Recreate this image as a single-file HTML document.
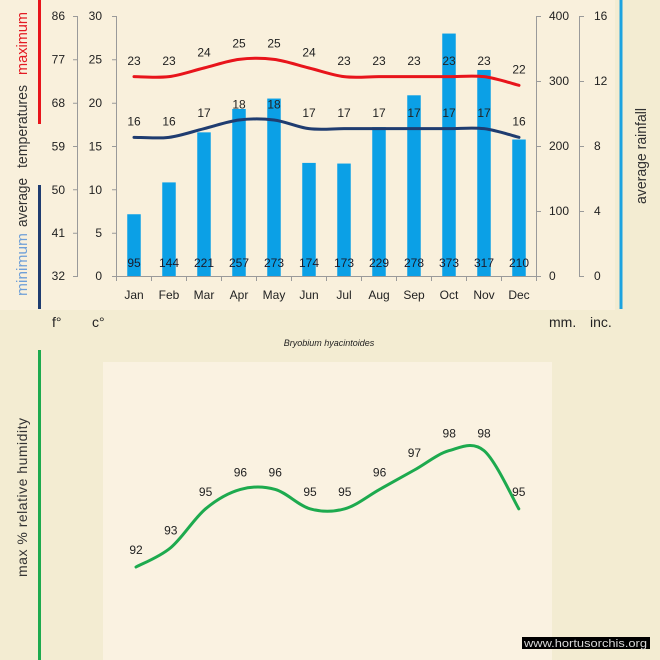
<!DOCTYPE html>
<html><head><meta charset="utf-8"><style>
html,body{margin:0;padding:0;background:#F3ECD2;}
svg{display:block;}
text{font-family:"Liberation Sans",sans-serif;}
</style></head><body>
<svg width="660" height="660" viewBox="0 0 660 660" xmlns="http://www.w3.org/2000/svg">
<rect x="0" y="0" width="660" height="660" fill="#F3ECD2"/>
<rect x="0" y="0" width="615" height="310" fill="#F9F0DC"/>
<rect x="103" y="362" width="449" height="298" fill="#FAF2E1"/>

<!-- decorative vertical lines -->
<line x1="39.5" y1="0" x2="39.5" y2="124" stroke="#E8141B" stroke-width="3"/>
<line x1="39.5" y1="185" x2="39.5" y2="309" stroke="#1F3C70" stroke-width="3"/>
<line x1="621" y1="0" x2="621" y2="309" stroke="#1CA3E0" stroke-width="3"/>
<line x1="39.5" y1="350" x2="39.5" y2="660" stroke="#1DAA4E" stroke-width="3"/>

<!-- left vertical title -->
<text transform="translate(27,296) rotate(-90)" font-size="15" fill="#6E9FD8" textLength="63" lengthAdjust="spacingAndGlyphs">minimum</text>
<text transform="translate(27,227) rotate(-90)" font-size="15" fill="#333" textLength="49" lengthAdjust="spacingAndGlyphs">average</text>
<text transform="translate(27,168) rotate(-90)" font-size="15" fill="#333" textLength="83" lengthAdjust="spacingAndGlyphs">temperatures</text>
<text transform="translate(27,75) rotate(-90)" font-size="15" fill="#E31B23" textLength="63" lengthAdjust="spacingAndGlyphs">maximum</text>

<!-- right vertical title -->
<text transform="translate(646,204) rotate(-90)" font-size="15" fill="#333" textLength="96" lengthAdjust="spacingAndGlyphs">average rainfall</text>

<!-- axes -->
<g stroke="#9A9A9A" stroke-width="1" fill="none">
<line x1="77.5" y1="16" x2="77.5" y2="276"/>
<line x1="116.5" y1="16" x2="116.5" y2="276"/>
<line x1="536.5" y1="16" x2="536.5" y2="276"/>
<line x1="579.5" y1="16" x2="579.5" y2="276"/>
<line x1="116" y1="276.5" x2="537" y2="276.5"/>
<path d="M73 16.5H78M73 59.8H78M73 103.2H78M73 146.5H78M73 189.8H78M73 233.2H78M73 276.5H78"/>
<path d="M112 16.5H117M112 59.8H117M112 103.2H117M112 146.5H117M112 189.8H117M112 233.2H117M112 276.5H117"/>
<path d="M536 16.5H541M536 81.5H541M536 146.5H541M536 211.5H541M536 276.5H541"/>
<path d="M579 16.5H584M579 81.5H584M579 146.5H584M579 211.5H584M579 276.5H584"/>
<path d="M116.5 276V281M151.5 276V281M186.5 276V281M221.5 276V281M256.5 276V281M291.5 276V281M326.5 276V281M361.5 276V281M396.5 276V281M431.5 276V281M466.5 276V281M501.5 276V281M536.5 276V281"/>
</g>

<!-- axis labels -->
<g font-size="12" fill="#222" text-anchor="end">
<text x="65" y="20">86</text><text x="65" y="63.5">77</text><text x="65" y="107">68</text><text x="65" y="150.5">59</text><text x="65" y="194">50</text><text x="65" y="237">41</text><text x="65" y="280">32</text>
<text x="102" y="20">30</text><text x="102" y="63.5">25</text><text x="102" y="107">20</text><text x="102" y="150.5">15</text><text x="102" y="194">10</text><text x="102" y="237">5</text><text x="102" y="280">0</text>
</g>
<g font-size="12" fill="#222">
<text x="549" y="20">400</text><text x="549" y="85">300</text><text x="549" y="150">200</text><text x="549" y="215">100</text><text x="549" y="280">0</text>
<text x="594" y="20">16</text><text x="594" y="85">12</text><text x="594" y="150">8</text><text x="594" y="215">4</text><text x="594" y="280">0</text>
</g>
<g font-size="12" fill="#222" text-anchor="middle">
<text x="134" y="299">Jan</text><text x="169" y="299">Feb</text><text x="204" y="299">Mar</text><text x="239" y="299">Apr</text><text x="274" y="299">May</text><text x="309" y="299">Jun</text><text x="344" y="299">Jul</text><text x="379" y="299">Aug</text><text x="414" y="299">Sep</text><text x="449" y="299">Oct</text><text x="484" y="299">Nov</text><text x="519" y="299">Dec</text>
</g>
<g font-size="14" fill="#222">
<text x="52" y="327">f°</text><text x="92" y="327">c°</text><text x="549" y="327">mm.</text><text x="590" y="327">inc.</text>
</g>

<!-- bars -->
<g fill="#0BA0E6">
<rect x="127.25" y="214.25" width="13.5" height="61.75"/>
<rect x="162.25" y="182.4" width="13.5" height="93.6"/>
<rect x="197.25" y="132.35" width="13.5" height="143.65"/>
<rect x="232.25" y="108.95" width="13.5" height="167.05"/>
<rect x="267.25" y="98.55" width="13.5" height="177.45"/>
<rect x="302.25" y="162.9" width="13.5" height="113.1"/>
<rect x="337.25" y="163.55" width="13.5" height="112.45"/>
<rect x="372.25" y="127.15" width="13.5" height="148.85"/>
<rect x="407.25" y="95.3" width="13.5" height="180.7"/>
<rect x="442.25" y="33.55" width="13.5" height="242.45"/>
<rect x="477.25" y="69.95" width="13.5" height="206.05"/>
<rect x="512.25" y="139.5" width="13.5" height="136.5"/>
</g>
<g font-size="12" fill="#1a1a2a" text-anchor="middle">
<text x="134" y="267">95</text><text x="169" y="267">144</text><text x="204" y="267">221</text><text x="239" y="267">257</text><text x="274" y="267">273</text><text x="309" y="267">174</text><text x="344" y="267">173</text><text x="379" y="267">229</text><text x="414" y="267">278</text><text x="449" y="267">373</text><text x="484" y="267">317</text><text x="519" y="267">210</text>
</g>

<!-- max temp line -->
<path fill="none" stroke="#E8141B" stroke-width="3" stroke-linecap="round" d="M134 76.67 C139.83 76.67 157.33 78.11 169 76.67 C180.67 75.22 192.33 70.89 204 68 C215.67 65.11 227.33 60.78 239 59.33 C250.67 57.89 262.33 57.89 274 59.33 C285.67 60.78 297.33 65.11 309 68 C320.67 70.89 332.33 75.22 344 76.67 C355.67 78.11 367.33 76.67 379 76.67 C390.67 76.67 402.33 76.67 414 76.67 C425.67 76.67 437.33 76.67 449 76.67 C460.67 76.67 472.33 75.22 484 76.67 C495.67 78.11 513.17 83.89 519 85.33"/>
<!-- min temp line -->
<path fill="none" stroke="#1F3C70" stroke-width="3" stroke-linecap="round" d="M134 137.33 C139.83 137.33 157.33 138.78 169 137.33 C180.67 135.89 192.33 131.56 204 128.67 C215.67 125.78 227.33 121.44 239 120 C250.67 118.56 262.33 118.56 274 120 C285.67 121.44 297.33 127.22 309 128.67 C320.67 130.11 332.33 128.67 344 128.67 C355.67 128.67 367.33 128.67 379 128.67 C390.67 128.67 402.33 128.67 414 128.67 C425.67 128.67 437.33 128.67 449 128.67 C460.67 128.67 472.33 127.22 484 128.67 C495.67 130.11 513.17 135.89 519 137.33"/>

<g font-size="12" fill="#222" text-anchor="middle">
<text x="134" y="65">23</text><text x="169" y="65">23</text><text x="204" y="56.3">24</text><text x="239" y="47.6">25</text><text x="274" y="47.6">25</text><text x="309" y="56.3">24</text><text x="344" y="65">23</text><text x="379" y="65">23</text><text x="414" y="65">23</text><text x="449" y="65">23</text><text x="484" y="65">23</text><text x="519" y="73.6">22</text>
<text x="134" y="125.6">16</text><text x="169" y="125.6">16</text><text x="204" y="117">17</text><text x="239" y="108.3">18</text><text x="274" y="108.3">18</text><text x="309" y="117">17</text><text x="344" y="117">17</text><text x="379" y="117">17</text><text x="414" y="117">17</text><text x="449" y="117">17</text><text x="484" y="117">17</text><text x="519" y="125.6">16</text>
</g>

<!-- species title -->
<text x="329" y="346" font-size="9" font-style="italic" fill="#222" text-anchor="middle">Bryobium  hyacintoides</text>

<!-- humidity -->
<text transform="translate(27,577) rotate(-90)" font-size="14" fill="#333" textLength="159" lengthAdjust="spacing">max  %  relative  humidity</text>
<path fill="none" stroke="#1DAA4E" stroke-width="3" stroke-linecap="round" d="M136 567 C141.8 563.77 159.2 557.3 170.8 547.6 C182.4 537.9 194 518.5 205.6 508.8 C217.2 499.1 228.8 492.63 240.4 489.4 C252 486.17 263.6 486.17 275.2 489.4 C286.8 492.63 298.4 505.57 310 508.8 C321.6 512.03 333.2 512.03 344.8 508.8 C356.4 505.57 368 495.87 379.6 489.4 C391.2 482.93 402.8 476.47 414.4 470 C426 463.53 437.6 453.83 449.2 450.6 C460.8 447.37 472.4 440.9 484 450.6 C495.6 460.3 513 499.1 518.8 508.8"/>
<g font-size="12" fill="#222" text-anchor="middle">
<text x="136" y="554">92</text><text x="170.8" y="534.6">93</text><text x="205.6" y="495.8">95</text><text x="240.4" y="476.4">96</text><text x="275.2" y="476.4">96</text><text x="310" y="495.8">95</text><text x="344.8" y="495.8">95</text><text x="379.6" y="476.4">96</text><text x="414.4" y="457">97</text><text x="449.2" y="437.6">98</text><text x="484" y="437.6">98</text><text x="518.8" y="495.8">95</text>
</g>

<!-- watermark -->
<rect x="522" y="637" width="128" height="12" fill="#000"/>
<text x="524" y="647" font-size="11" fill="#d8d8d8" textLength="123" lengthAdjust="spacingAndGlyphs">www.hortusorchis.org</text>
</svg>
</body></html>
